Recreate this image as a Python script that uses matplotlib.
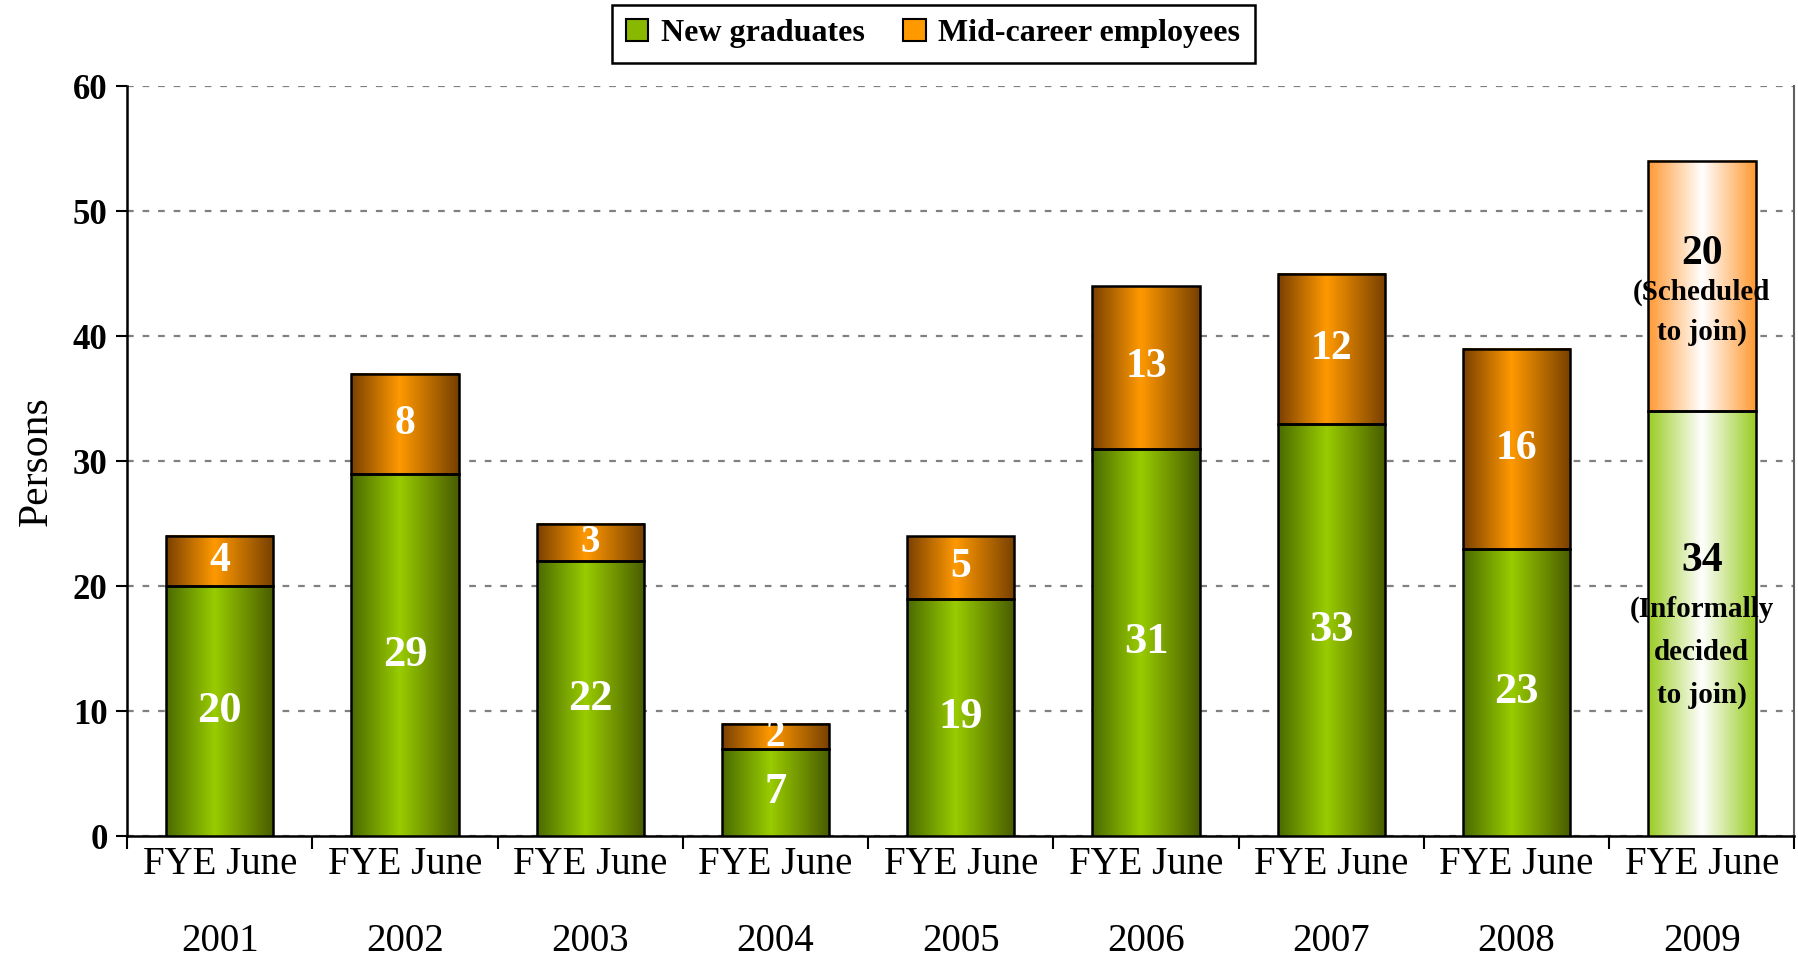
import numpy as np
import matplotlib.pyplot as plt
from matplotlib.colors import LinearSegmentedColormap
from matplotlib.patches import Patch

plt.rcParams['font.family'] = ['Liberation Serif', 'DejaVu Serif']

years = ['2001', '2002', '2003', '2004', '2005', '2006', '2007', '2008', '2009']
new_grads = [20, 29, 22, 7, 19, 31, 33, 23, 34]
mid_career = [4, 8, 3, 2, 5, 13, 12, 16, 20]
labels = ['FYE June\n' + y for y in years]
note_new = '(Informally\ndecided\nto join)'
note_mid = '(Scheduled\nto join)'

green_cm = LinearSegmentedColormap.from_list('g', [(0, '#4a6a00'), (0.45, '#99cc00'), (1, '#485c00')])
orange_cm = LinearSegmentedColormap.from_list('o', [(0, '#7a4000'), (0.45, '#ff9900'), (1, '#774000')])
green_pale = LinearSegmentedColormap.from_list('gp', ['#99cc22', '#ffffff', '#99cc22'])
orange_pale = LinearSegmentedColormap.from_list('op', ['#ff9933', '#ffffff', '#ff9933'])

fig = plt.figure(figsize=(17.98, 9.61), dpi=100)
ax = fig.add_axes([0.0707, 0.130, 0.9273, 0.7805])

x = np.arange(len(years))
w = 0.58
b1 = ax.bar(x, new_grads, width=w, color='none', edgecolor='black', lw=1.8, zorder=4)
b2 = ax.bar(x, mid_career, width=w, bottom=new_grads, color='none', edgecolor='black', lw=1.8, zorder=4)

grad = np.linspace(0, 1, 256).reshape(1, -1)
last = len(years) - 1
for i in range(len(years)):
    for bars, cm, cm_pale in ((b1, green_cm, green_pale), (b2, orange_cm, orange_pale)):
        p = bars[i]
        x0, y0 = p.get_x(), p.get_y()
        ax.imshow(grad, extent=[x0, x0 + p.get_width(), y0, y0 + p.get_height()],
                  aspect='auto', cmap=cm_pale if i == last else cm, zorder=3,
                  interpolation='bicubic')

# value labels
for i in range(len(years)):
    mid1 = new_grads[i] / 2
    mid2 = new_grads[i] + mid_career[i] / 2
    if i != last:
        ax.text(x[i], mid1, str(new_grads[i]), ha='center', va='center', color='white',
                fontsize=32, fontweight='bold', zorder=5)
        ax.text(x[i], mid2, str(mid_career[i]), ha='center', va='center', color='white',
                fontsize=30 if mid_career[i] > 3 else 28, fontweight='bold', zorder=5)
    else:
        ax.annotate(str(new_grads[i]), (x[i], mid1), xytext=(0, 45), textcoords='offset points',
                    ha='center', va='center', fontsize=30, fontweight='bold', zorder=5)
        ax.annotate(note_new, (x[i], mid1), xytext=(0, -21), textcoords='offset points',
                    ha='center', va='center', fontsize=21, fontweight='bold', zorder=5,
                    linespacing=1.75)
        ax.annotate(str(mid_career[i]), (x[i], mid2), xytext=(0, 23), textcoords='offset points',
                    ha='center', va='center', fontsize=30, fontweight='bold', zorder=5)
        ax.annotate(note_mid, (x[i], mid2), xytext=(0, -19), textcoords='offset points',
                    ha='center', va='center', fontsize=21, fontweight='bold', zorder=5,
                    linespacing=1.6)

ax.set_xlim(-0.5, len(years) - 0.5)
ax.set_ylim(0, 60)
ax.set_yticks(range(0, 61, 10))
ax.yaxis.grid(True, color='#808080', linestyle=(0, (3, 4)), lw=1.6, zorder=1)
ax.set_axisbelow(True)

ax.set_xticks(x)
ax.set_xticklabels(labels, fontsize=28, linespacing=2.4)
ax.set_xticks(np.arange(-0.5, len(years)), minor=True)
ax.tick_params(axis='x', which='major', length=0, pad=7.5)
ax.tick_params(axis='x', which='minor', length=9, width=1.5, direction='out')
ax.tick_params(axis='y', length=8, width=1.5, direction='out', labelsize=25, pad=6)
for t in ax.get_yticklabels():
    t.set_fontweight('bold')

ax.spines['top'].set_visible(False)
ax.spines['left'].set_linewidth(1.8)
ax.spines['bottom'].set_linewidth(1.8)
ax.spines['right'].set_color('#606060')
ax.spines['right'].set_linewidth(1.5)

ax.set_ylabel('Persons', fontsize=30)
ax.yaxis.set_label_coords(-0.043, 0.5)

handles = [Patch(facecolor='#88b800', edgecolor='black', lw=1.5),
           Patch(facecolor='#ff9900', edgecolor='black', lw=1.5)]
leg = fig.legend(handles, ['New graduates', 'Mid-career employees'], loc='center',
                 bbox_to_anchor=(0.519, 0.965), ncol=2, fancybox=False, framealpha=1,
                 edgecolor='black', prop={'weight': 'bold', 'size': 23},
                 handlelength=0.7, handleheight=0.7, handletextpad=0.4, columnspacing=1.2,
                 borderpad=0.45)
leg.get_frame().set_linewidth(1.8)

fig.savefig('out.png', dpi=100)
